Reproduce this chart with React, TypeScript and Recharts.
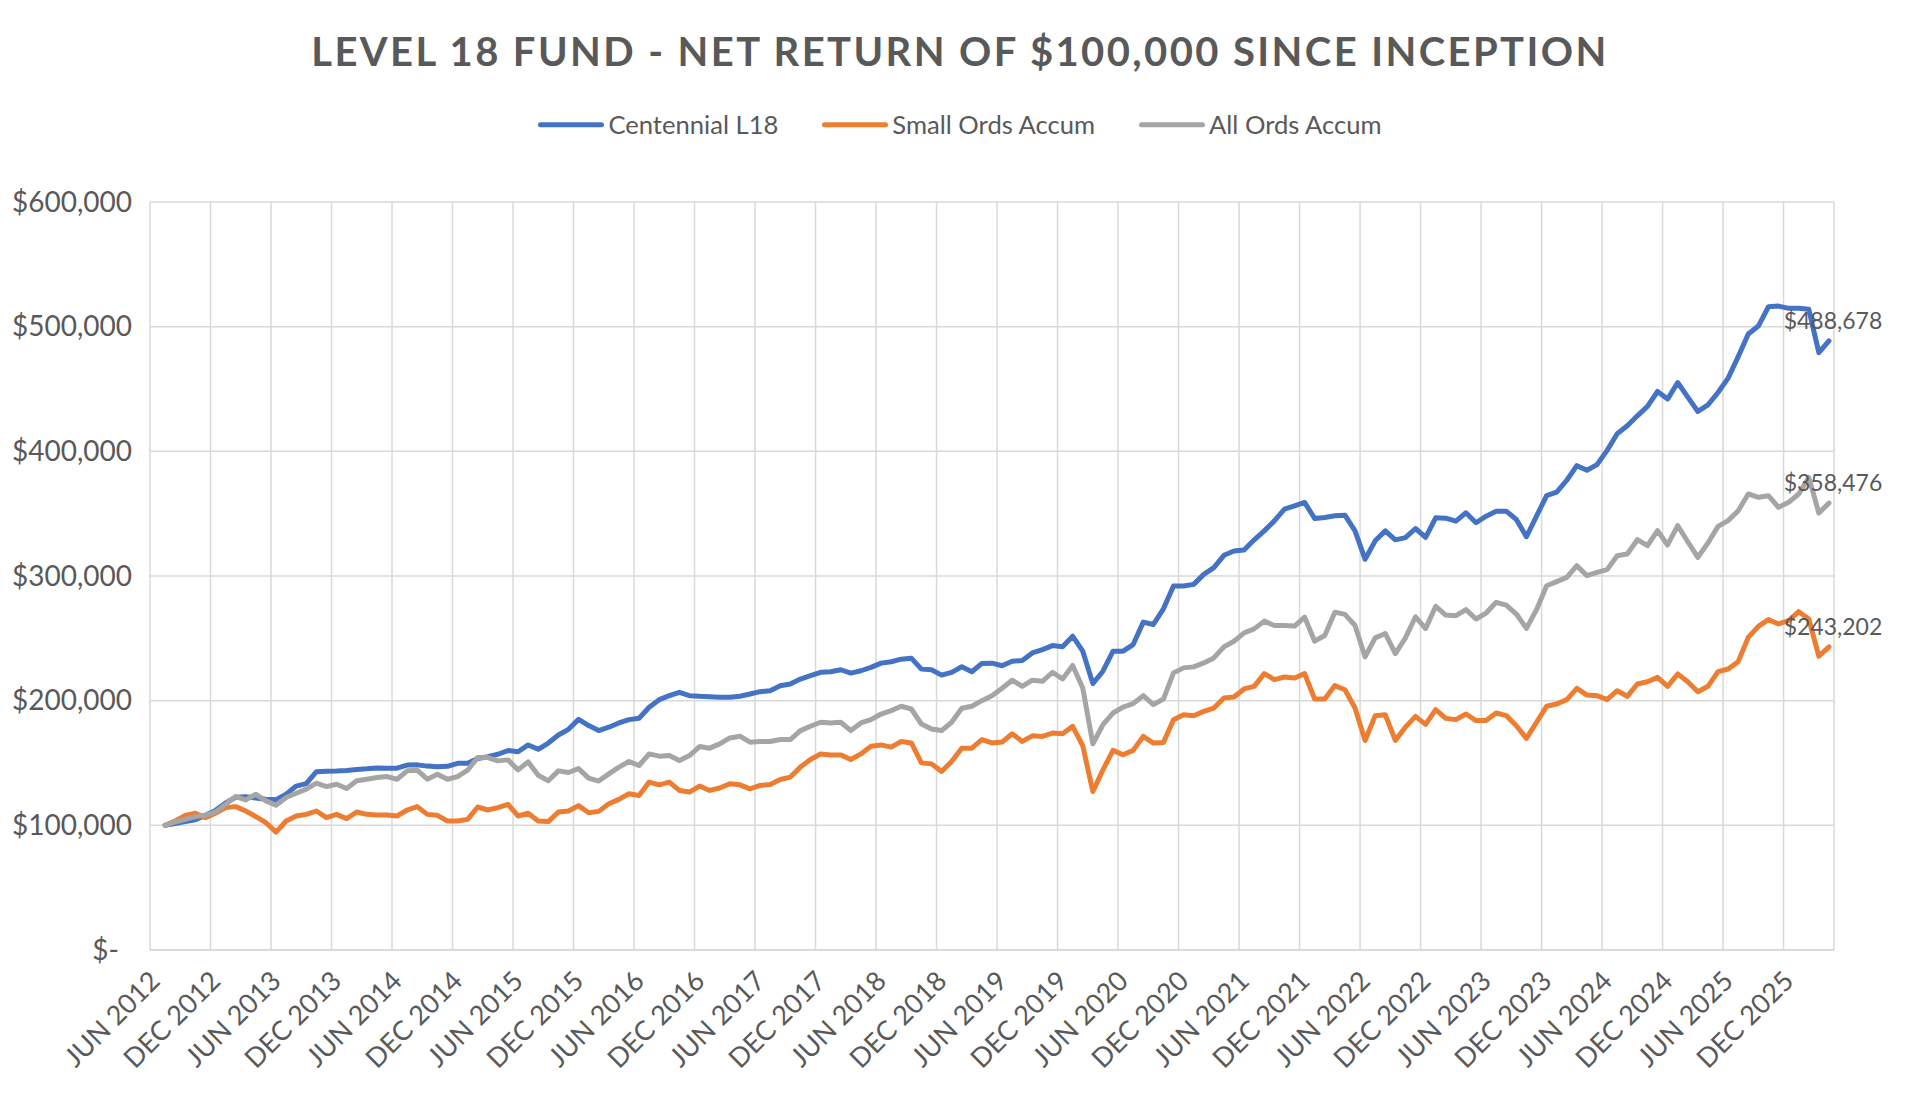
import React from "react";
import { LineChart, Line, XAxis, YAxis, CartesianGrid } from "recharts";

// monthly closing values, Jul 2012 .. Apr 2026, in $ thousands
const centennialL18 = [
  100, 101.5, 103, 104.5, 108, 112, 118, 122.5, 123, 122, 121, 120.5,
  125, 131.5, 133.5, 143, 143.3, 143.5, 144, 144.8, 145.3, 146, 145.8, 145.8,
  148.3, 148.5, 147.5, 147, 147.3, 149.7, 149.8, 153.5, 155, 157, 160, 159,
  164.5, 161, 166, 172.5, 177, 185, 180, 176, 178.7, 182.1, 184.8, 185.9,
  194.7, 200.8, 204, 206.7, 204, 203.5, 203.2, 202.7, 202.7, 203.5, 205.3, 207.2,
  208, 212, 213.3, 217.3, 220, 222.7, 223.2, 224.8, 222.1, 224, 226.7, 230.1,
  231.2, 233.3, 234.1, 225.3, 224.8, 220.5, 222.7, 227.2, 223.2, 229.9, 230.1, 228,
  231.6, 232.2, 238.3, 241, 244.2, 243.2, 251.7, 239.7, 213.7, 223.6, 239.7, 239.7,
  245, 263, 261.1, 273.7, 292, 292, 293.3, 301.3, 306.7, 316.6, 320.1, 320.9,
  329, 336.2, 344.2, 353.6, 356.3, 359, 346.1, 346.9, 348.3, 348.8, 336.2, 313.4,
  328.2, 336.2, 329, 330.8, 338.1, 331, 346.7, 346.4, 344, 350.7, 342.7, 348,
  352, 352, 345.3, 331.5, 348, 364.5, 367.2, 376.8, 388.5, 384.8, 389.3, 400.8,
  414.1, 420.5, 428.5, 436, 448, 441.9, 455.2, 443.5, 432, 437.3, 447.2, 458.7,
  476, 494.1, 500.5, 516, 516.5, 514.7, 514.7, 513.9, 479.2, 488.678,
];

const smallOrdsAccum = [
  100, 103.5, 108, 109.7, 106.2, 109.7, 114.2, 115, 111.5, 107, 102.1, 94.6,
  103.5, 107.5, 108.8, 111.5, 106.2, 108.8, 105.4, 110.7, 108.8, 108.3, 108.3, 107.5,
  112.3, 115, 108.8, 108, 103.5, 103.5, 104.8, 114.7, 112.3, 114.2, 116.9, 107.5,
  109.7, 103.5, 103, 110.7, 111.5, 115.8, 110.1, 111.2, 117.3, 120.8, 125.3, 124,
  134.7, 132.5, 134.7, 128, 126.7, 131.5, 128, 129.9, 133.3, 132.5, 129.3, 132,
  132.8, 136.8, 138.7, 146.7, 152.8, 157.3, 156.5, 156.5, 152.8, 157.3, 163.5, 164.5,
  162.7, 167.2, 166.1, 150.1, 149.3, 143.2, 151.2, 161.9, 161.9, 168.8, 166.1, 166.8,
  173.5, 167.3, 171.8, 171.3, 174, 173.5, 179.4, 163.8, 127.1, 144.5, 160.1, 156.6,
  160.1, 171.3, 166, 166.5, 184.7, 188.7, 187.9, 191.4, 194.1, 202.1, 202.9, 209.4,
  211.5, 221.7, 216.9, 219, 218.2, 221.7, 201.3, 201.3, 212.1, 208.8, 194.1, 168.1,
  187.9, 188.7, 168.1, 178.8, 187.4, 181, 192.8, 185.8, 184.8, 189.3, 184, 184,
  190.1, 188, 179.9, 169.8, 182.6, 195.5, 197.3, 200.8, 209.9, 204.5, 204, 200.8,
  208, 203.5, 213.4, 215.2, 218.7, 211.5, 221.4, 215.2, 207.2, 211.5, 223.3, 225.4,
  231.3, 250.8, 259.6, 265, 261.5, 264.2, 271.4, 265.5, 235.6, 243.202,
];

const allOrdsAccum = [
  100, 102.7, 104.8, 107, 108, 110.7, 116.9, 123.1, 120.4, 124.9, 119.6, 116.1,
  122.3, 125.7, 129, 133.8, 131.1, 133, 129.5, 135.7, 137, 138.3, 139.1, 137,
  143.7, 144.2, 137, 141, 137, 139.1, 144.2, 154.4, 154.4, 151.7, 152.5, 144.5,
  150.9, 140.2, 135.7, 143.7, 142.4, 145.5, 137.9, 135.5, 141.3, 146.7, 151.2, 148,
  157.3, 155.5, 156, 152, 156, 163.2, 161.9, 165.3, 170.1, 171.5, 166.7, 167.2,
  167.2, 168.8, 168.8, 176, 179.5, 182.7, 182.1, 182.7, 176, 182.1, 184.8, 189.3,
  192, 195.5, 193.3, 181.3, 177.3, 176, 182.7, 193.9, 195.5, 200, 204, 210,
  216.4, 211.5, 216.4, 215.5, 222.8, 217.4, 228.2, 210.2, 165.4, 180.7, 190.1, 194.9,
  197.6, 204, 196.8, 201.3, 222.3, 226.3, 227.1, 230.3, 234.3, 243.2, 247.7, 254.4,
  257.6, 263.8, 260.3, 260.3, 259.8, 267, 247.7, 252.3, 271, 269.2, 260.3, 235.1,
  250.4, 253.9, 237.8, 250.4, 267.3, 257.8, 275.7, 268.7, 268.2, 273, 265.5, 270.3,
  278.9, 276.7, 269.5, 258, 273, 292.2, 295.5, 298.9, 308.3, 300.3, 302.9, 305.1,
  316.3, 317.6, 329.1, 324.3, 336.4, 324.9, 340.4, 327.5, 315, 326.5, 339.8, 344.4,
  352.4, 365.8, 363.1, 364.4, 355.1, 359.1, 365.8, 379.1, 350.5, 358.476,
];

const xTickLabels = [
  "JUN 2012", "DEC 2012", "JUN 2013", "DEC 2013", "JUN 2014", "DEC 2014",
  "JUN 2015", "DEC 2015", "JUN 2016", "DEC 2016", "JUN 2017", "DEC 2017",
  "JUN 2018", "DEC 2018", "JUN 2019", "DEC 2019", "JUN 2020", "DEC 2020",
  "JUN 2021", "DEC 2021", "JUN 2022", "DEC 2022", "JUN 2023", "DEC 2023",
  "JUN 2024", "DEC 2024", "JUN 2025", "DEC 2025",
];
const yTicks = [0, 100, 200, 300, 400, 500, 600];

const MONTH_NAMES = ["Jan", "Feb", "Mar", "Apr", "May", "Jun", "Jul", "Aug", "Sep", "Oct", "Nov", "Dec"];

// axis starts at Jun 2012; first point is Jul 2012, each month sits mid-slot
const data = centennialL18.map((v, i) => {
  const m = 6 + i;
  return {
    month: `${MONTH_NAMES[m % 12]} ${2012 + Math.floor(m / 12)}`,
    pos: i + 1.5,
    l18: v,
    small: smallOrdsAccum[i],
    all: allOrdsAccum[i],
  };
});
const LAST = data.length - 1;

const FONT = "Lato, 'Open Sans', sans-serif";
const TEXT = "#595959";
const GRID = "#D9D9D9";
const BLUE = "#4472C4";
const ORANGE = "#ED7D31";
const GREY = "#A5A5A5";

const money = (k: number) => {
  if (k === 0) return "$-";
  return "$" + Math.round(k * 1000).toLocaleString("en-US");
};

const XTick = (props: any) => {
  const { x, y, payload } = props;
  const label = xTickLabels[Math.round(payload.value / 6)];
  return (
    <g transform={`translate(${x + 5},${y + 24})`}>
      <text
        x={0}
        y={0}
        dy="0.35em"
        textAnchor="end"
        transform="rotate(-45)"
        fill={TEXT}
        fontSize={27}
        fontFamily={FONT}
      >
        {label}
      </text>
    </g>
  );
};

const YTick = (props: any) => {
  const { x, y, payload } = props;
  return (
    <text
      x={payload.value === 0 ? x - 13 : x}
      y={y}
      dy="0.35em"
      textAnchor="end"
      fill={TEXT}
      fontSize={28}
      fontFamily={FONT}
    >
      {money(payload.value)}
    </text>
  );
};

const endLabel = (props: any) => {
  const { x, y, index, value } = props;
  if (index !== LAST) return null;
  return (
    <text
      x={x + 4}
      y={y - 20}
      dy="0.35em"
      textAnchor="middle"
      fill={TEXT}
      fontSize={23}
      fontFamily={FONT}
    >
      {money(value)}
    </text>
  );
};

const legendItems = [
  { name: "Centennial L18", color: BLUE },
  { name: "Small Ords Accum", color: ORANGE },
  { name: "All Ords Accum", color: GREY },
];

export default function App() {
  return (
    <div
      style={{
        position: "fixed",
        left: 0,
        top: 0,
        width: 1920,
        height: 1096,
        background: "#FFFFFF",
        fontFamily: FONT,
        color: TEXT,
      }}
    >
      <div
        style={{
          position: "absolute",
          left: 0,
          top: 51,
          width: 1920,
          transform: "translateY(-50%)",
          textAlign: "center",
          fontSize: 40,
          fontWeight: 700,
          letterSpacing: 2.4,
          lineHeight: 1,
        }}
      >
        LEVEL 18 FUND - NET RETURN OF $100,000 SINCE INCEPTION
      </div>
      <div
        style={{
          position: "absolute",
          left: 0,
          top: 125,
          width: 1920,
          transform: "translateY(-50%)",
          display: "flex",
          justifyContent: "center",
          alignItems: "center",
          gap: 44,
          fontSize: 25.6,
          lineHeight: 1,
        }}
      >
        {legendItems.map((it) => (
          <div key={it.name} style={{ display: "flex", alignItems: "center", gap: 4 }}>
            <span
              style={{
                display: "inline-block",
                width: 66,
                height: 5,
                borderRadius: 3,
                background: it.color,
              }}
            />
            <span>{it.name}</span>
          </div>
        ))}
      </div>
      <LineChart
        width={1920}
        height={1096}
        data={data}
        margin={{ top: 202, right: 86, bottom: 16, left: 20 }}
      >
        <CartesianGrid stroke={GRID} strokeWidth={1.5} />
        <XAxis
          type="number"
          dataKey="pos"
          domain={[0, 167]}
          ticks={xTickLabels.map((_, i) => i * 6)}
          interval={0}
          allowDataOverflow
          height={130}
          axisLine={{ stroke: GRID, strokeWidth: 1.5 }}
          tickLine={false}
          tickSize={0}
          tick={<XTick />}
        />
        <YAxis
          domain={[0, 600]}
          ticks={yTicks}
          interval={0}
          width={130}
          axisLine={false}
          tickLine={false}
          tickSize={0}
          tickMargin={18}
          tick={<YTick />}
        />
        <Line
          dataKey="l18"
          name="Centennial L18"
          stroke={BLUE}
          strokeWidth={5}
          strokeLinejoin="round"
          strokeLinecap="round"
          dot={false}
          isAnimationActive={false}
          label={endLabel}
        />
        <Line
          dataKey="small"
          name="Small Ords Accum"
          stroke={ORANGE}
          strokeWidth={5}
          strokeLinejoin="round"
          strokeLinecap="round"
          dot={false}
          isAnimationActive={false}
          label={endLabel}
        />
        <Line
          dataKey="all"
          name="All Ords Accum"
          stroke={GREY}
          strokeWidth={5}
          strokeLinejoin="round"
          strokeLinecap="round"
          dot={false}
          isAnimationActive={false}
          label={endLabel}
        />
      </LineChart>
    </div>
  );
}
